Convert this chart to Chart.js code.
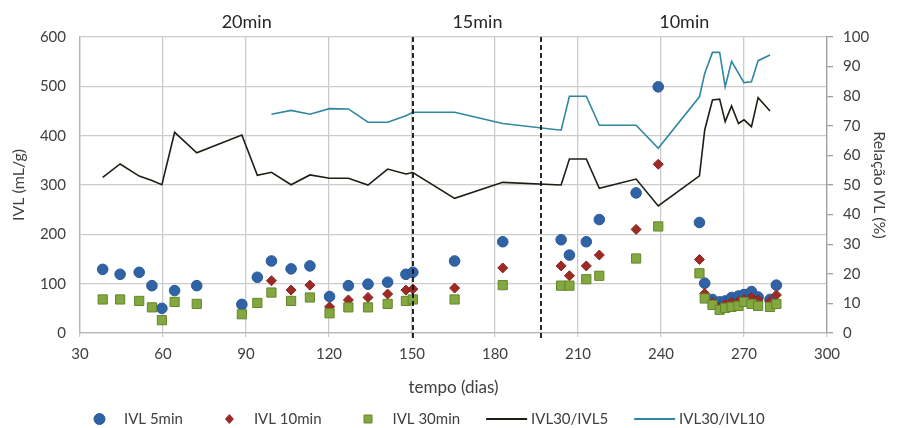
<!DOCTYPE html>
<html>
<head>
<meta charset="utf-8">
<script src="https://cdn.jsdelivr.net/npm/chart.js@4.4.1/dist/chart.umd.min.js"></script>
<style>
  html, body { margin: 0; padding: 0; background: #fff; }
  #wrap { width: 900px; height: 428px; }
</style>
</head>
<body>
<div id="wrap"><canvas id="chart" width="900" height="428"></canvas></div>
<script>
// sampling days (tempo, dias)
const days = [38.2, 44.5, 51.4, 56.0, 59.6, 64.2, 72.2, 88.5, 94.1, 99.2,
    106.3, 113.1, 120.2, 127.0, 134.1, 141.2, 147.8, 150.3, 165.4, 182.8,
    203.9, 206.9, 213.0, 217.7, 231.0, 239.0, 253.9, 255.8, 258.6, 261.2,
    263.2, 265.5, 268.0, 270.0, 272.7, 275.1, 279.4, 281.7];

// IVL (mL/g) after 5, 10 and 30 min
const ivl5 = [129, 119, 123, 96, 50, 86, 96, 58, 113, 146,
    130, 136, 74, 96, 99, 103, 119, 123, 146, 185,
    189, 158, 185, 230, 284, 499, 224, 101, 68, 63,
    65, 72, 75, 78, 84, 73, 68, 97];
const ivl10 = [null, null, null, null, null, null, null, null, null, 106,
    87, 97, 53, 67, 72, 79, 87, 89, 91, 132,
    136, 116, 136, 158, 210, 342, 149, 80, 62, 52,
    58, 62, 64, 68, 72, 67, 64, 77];
const ivl30 = [68, 68, 65, 52, 26, 63, 59, 38, 61, 82,
    65, 72, 40, 52, 52, 59, 65, 68, 68, 97,
    96, 96, 109, 116, 151, 216, 121, 70, 57, 47,
    51, 53, 55, 63, 59, 55, 53, 59];

// Relação IVL (%)
const ratio30to5 = [52.6, 57.1, 53.0, 51.5, 50.1, 67.8, 60.9, 66.9, 53.3, 54.3,
    50.1, 53.4, 52.3, 52.3, 50.0, 55.4, 53.7, 54.2, 45.5, 50.9,
    50.0, 58.8, 58.8, 48.9, 52.0, 42.9, 53.1, 68.6, 78.7, 79.0,
    71.4, 76.7, 70.8, 72.0, 69.7, 79.5, 75.0, null];
const ratio30to10 = [null, null, null, null, null, null, null, null, null, 73.9,
    75.2, 73.9, 75.8, 75.7, 71.2, 71.2, 73.4, 74.6, 74.6, 70.8,
    68.5, 80.0, 80.0, 70.2, 70.2, 62.4, 79.8, 87.7, 94.8, 94.8,
    83.2, 91.8, null, 84.6, 84.9, 92.0, 93.9, null];

// settling-time phases and where they change
const phaseLabels = ['20min', '15min', '10min'];
const phaseBreaks = [150.5, 196.8];

const FONT = 'Lato, "Open Sans", sans-serif';
const TEXT = '#404040';
const GRID = '#cccccc';

const pts = (ys) => days.map((d, i) => ({ x: d, y: ys[i] }));

const phasePlugin = {
    id: 'phases',
    afterDatasetsDraw(chart) {
        const { ctx, chartArea, scales } = chart;
        ctx.save();
        ctx.strokeStyle = '#111';
        ctx.lineWidth = 1.8;
        ctx.setLineDash([5, 3]);
        phaseBreaks.forEach(b => {
            const x = Math.round(scales.x.getPixelForValue(b));
            ctx.beginPath();
            ctx.moveTo(x, chartArea.top);
            ctx.lineTo(x, chartArea.bottom + 5);
            ctx.stroke();
        });
        ctx.restore();
    },
    afterDraw(chart) {
        const { ctx, scales } = chart;
        const edges = [scales.x.min, ...phaseBreaks, scales.x.max];
        ctx.save();
        ctx.fillStyle = '#262626';
        ctx.font = '18px ' + FONT;
        ctx.textAlign = 'center';
        ctx.textBaseline = 'middle';
        phaseLabels.forEach((label, i) => {
            const mid = (edges[i] + edges[i + 1]) / 2;
            ctx.fillText(label, scales.x.getPixelForValue(mid), 22);
        });
        ctx.restore();
    }
};

// Excel-like legend: 41px symbol box, 4px gap, text, 26px to next entry
const legendPlugin = {
    id: 'bottomLegend',
    afterDraw(chart) {
        const { ctx } = chart;
        const y = 419;
        let x = 79;
        ctx.save();
        ctx.font = '15px ' + FONT;
        ctx.textBaseline = 'middle';
        chart.data.datasets.slice().sort((a, b) => a.legendIndex - b.legendIndex).forEach(ds => {
            const cx = x + 20.5;
            ctx.fillStyle = ds.backgroundColor;
            ctx.strokeStyle = ds.borderColor;
            ctx.lineWidth = 1;
            ctx.beginPath();
            if (ds.showLine !== false) {
                ctx.lineWidth = 1.8;
                ctx.moveTo(x, y);
                ctx.lineTo(x + 41, y);
                ctx.stroke();
            } else if (ds.pointStyle === 'circle') {
                ctx.arc(cx, y, 5.5, 0, Math.PI * 2);
                ctx.fill();
                ctx.stroke();
            } else if (ds.pointStyle === 'rectRot') {
                ctx.moveTo(cx, y - 5);
                ctx.lineTo(cx + 4.5, y);
                ctx.lineTo(cx, y + 5);
                ctx.lineTo(cx - 4.5, y);
                ctx.closePath();
                ctx.fill();
            } else {
                ctx.rect(cx - 4, y - 4, 8, 8);
                ctx.fill();
                ctx.stroke();
            }
            ctx.fillStyle = TEXT;
            ctx.fillText(ds.label, x + 45, y);
            x += 45 + ctx.measureText(ds.label).width + 26;
        });
        ctx.restore();
    }
};

const tickFont = { family: FONT, size: 15 };

new Chart(document.getElementById('chart'), {
    type: 'line',
    data: {
        datasets: [
            {
                label: 'IVL 30min', legendIndex: 2, data: pts(ivl30), showLine: false,
                pointStyle: 'rect', pointRadius: 6.5, backgroundColor: '#82a83f',
                borderColor: '#64852c', pointBorderWidth: 1, order: 1
            },
            {
                label: 'IVL 10min', legendIndex: 1, data: pts(ivl10), showLine: false,
                pointStyle: 'rectRot', pointRadius: 5, backgroundColor: '#9e2a26',
                borderColor: '#8a221f', pointBorderWidth: 1, order: 2
            },
            {
                label: 'IVL 5min', legendIndex: 0, data: pts(ivl5), showLine: false,
                pointStyle: 'circle', pointRadius: 5.3, backgroundColor: '#2f63a6',
                borderColor: '#285a98', pointBorderWidth: 1, order: 3
            },
            {
                label: 'IVL30/IVL5', legendIndex: 3, data: pts(ratio30to5), yAxisID: 'y1',
                borderColor: '#1c1f14', backgroundColor: '#1c1f14', borderWidth: 1.6,
                pointRadius: 0, spanGaps: true, tension: 0, order: 4
            },
            {
                label: 'IVL30/IVL10', legendIndex: 4, data: pts(ratio30to10), yAxisID: 'y1',
                borderColor: '#2f87a2', backgroundColor: '#2f87a2', borderWidth: 1.6,
                pointRadius: 0, spanGaps: true, tension: 0, order: 5
            }
        ]
    },
    options: {
        responsive: false,
        animation: false,
        devicePixelRatio: 1,
        layout: { padding: { top: 37, bottom: 28, left: 0, right: 0 } },
        plugins: { legend: { display: false }, tooltip: { enabled: false } },
        scales: {
            x: {
                type: 'linear', min: 30, max: 300,
                ticks: { stepSize: 30, font: tickFont, color: TEXT, padding: 8 },
                grid: { color: GRID, lineWidth: 1.3, tickLength: 4 },
                border: { color: '#b5b5b5', width: 1.3 },
                title: { display: true, text: 'tempo (dias)', color: TEXT,
                    font: { family: FONT, size: 17 }, padding: { top: 0, bottom: 2 } },
                afterFit(scale) { scale.height = 67; }
            },
            y: {
                position: 'left', min: 0, max: 600,
                ticks: { stepSize: 100, font: tickFont, color: TEXT, padding: 14 },
                grid: { color: GRID, lineWidth: 1.3, drawTicks: false },
                border: { color: '#b5b5b5', width: 1.3 },
                title: { display: true, text: 'IVL (mL/g)', color: TEXT,
                    font: { family: FONT, size: 16 }, padding: { top: 9, bottom: 0 } },
                afterFit(scale) { scale.width = 80; }
            },
            y1: {
                position: 'right', min: 0, max: 100,
                ticks: { stepSize: 10, font: tickFont, color: TEXT, padding: 10 },
                grid: { drawOnChartArea: false, color: '#a0a0a0', tickLength: 6, lineWidth: 1.3 },
                border: { color: '#a0a0a0', width: 1.3 },
                title: { display: true, text: 'Relação IVL (%)', color: TEXT,
                    font: { family: FONT, size: 16 }, padding: { top: 11, bottom: 0 } },
                afterFit(scale) { scale.width = 73; }
            }
        }
    },
    plugins: [phasePlugin, legendPlugin]
});
</script>
</body>
</html>
